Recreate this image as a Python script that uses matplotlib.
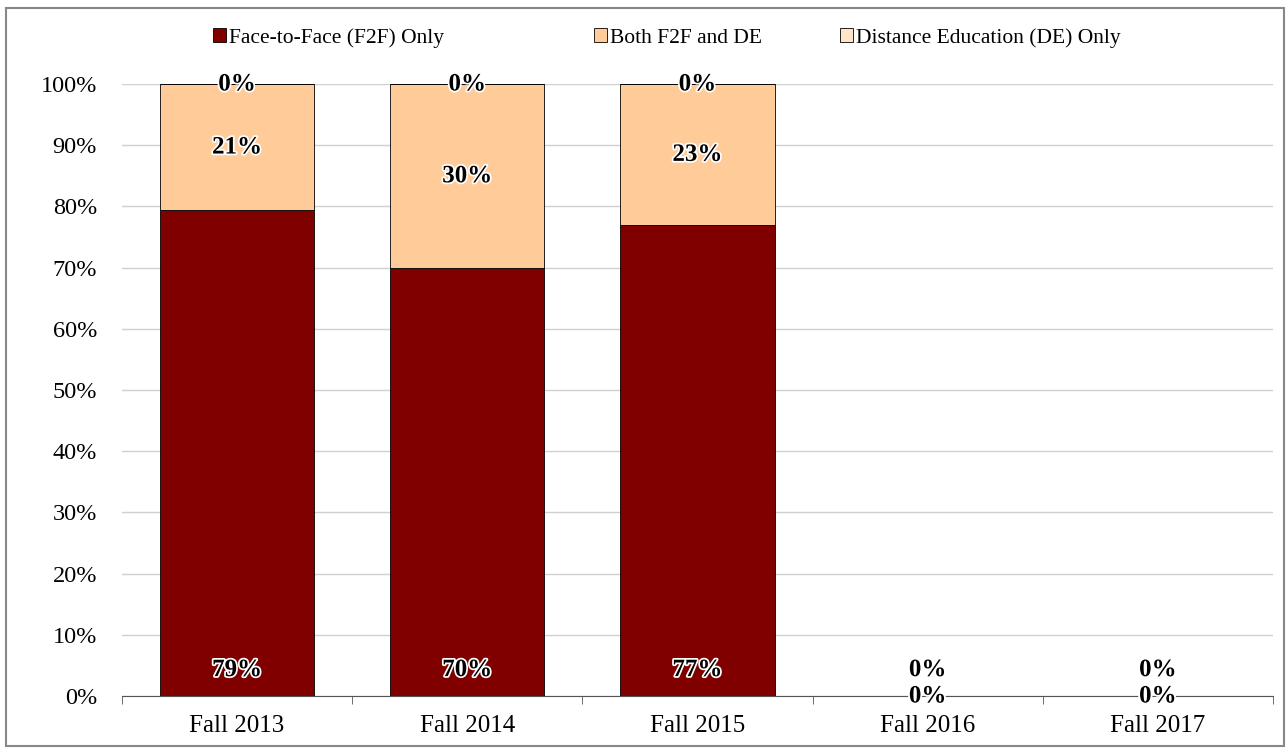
import matplotlib.pyplot as plt
import matplotlib.patheffects as pe
from matplotlib.patches import Rectangle
import numpy as np

plt.rcParams["font.family"] = ["Liberation Serif", "DejaVu Serif"]

categories = ["Fall 2013", "Fall 2014", "Fall 2015", "Fall 2016", "Fall 2017"]
series_names = ["Face-to-Face (F2F) Only", "Both F2F and DE", "Distance Education (DE) Only"]
f2f_only = [79.4, 70.0, 77.0, 0.0, 0.0]
both = [20.6, 30.0, 23.0, 0.0, 0.0]
de_only = [0.0, 0.0, 0.0, 0.0, 0.0]
colors = ["#800000", "#FFCC99", "#FFE4C8"]

W, H = 1286, 754
fig = plt.figure(figsize=(W / 100, H / 100), dpi=100)
ax = fig.add_axes([122 / W, 1 - 696 / H, 1151 / W, 612 / H])

# frame around the whole chart
fig.patches.append(Rectangle((6 / W, 8 / H), 1278 / W, 738 / H,
                             transform=fig.transFigure, fill=False,
                             edgecolor="#888888", linewidth=1.5))

x = np.arange(len(categories))
width = 0.67
outline = [pe.withStroke(linewidth=2.5, foreground="white")]
lbl_kw = dict(ha="center", va="center", fontsize=18, fontweight="bold",
              color="black", path_effects=outline, zorder=5)

handles = []
bottom = np.zeros(len(categories))
for name, vals, col in zip(series_names, [f2f_only, both, de_only], colors):
    vals = np.array(vals)
    bars = ax.bar(x, vals, width, bottom=bottom, color=col, edgecolor="black",
                  linewidth=0.6, label=name, zorder=3)
    handles.append(bars)
    for i, v in enumerate(vals):
        txt = f"{v:.0f}%"
        if name == series_names[0]:
            # inside base label
            ax.annotate(txt, (x[i], bottom[i]), xytext=(0, 19),
                        textcoords="offset points", **lbl_kw)
        else:
            ax.text(x[i], bottom[i] + v / 2, txt, **lbl_kw)
    bottom = bottom + vals

ax.set_xlim(-0.5, len(categories) - 0.5)
ax.set_ylim(0, 100)
ax.set_yticks(np.arange(0, 101, 10))
ax.set_yticklabels([f"{t}%" for t in range(0, 101, 10)], fontsize=17.5)
ax.set_xticks(x)
ax.set_xticklabels(categories, fontsize=18)
ax.tick_params(axis="y", length=0, pad=18)
ax.tick_params(axis="x", length=0, pad=14)
# minor ticks between categories
ax.set_xticks(np.arange(-0.5, len(categories), 1), minor=True)
ax.tick_params(axis="x", which="minor", length=6, direction="out", color="#555555")

ax.yaxis.grid(True, color="#d0d0d0", linewidth=1)
ax.set_axisbelow(True)
for s in ["top", "right", "left"]:
    ax.spines[s].set_visible(False)
ax.spines["bottom"].set_color("#555555")

# legend entries placed like the original
leg_x = [213, 594, 840]
for h, name, lx in zip(handles, series_names, leg_x):
    fig.legend([h], [name], loc="center left", bbox_to_anchor=(lx / W, 1 - 38 / H),
               frameon=False, fontsize=15.5, handlelength=0.6, handleheight=0.6,
               handletextpad=0.15, borderpad=0, borderaxespad=0)

fig.savefig("out.png", dpi=100)
